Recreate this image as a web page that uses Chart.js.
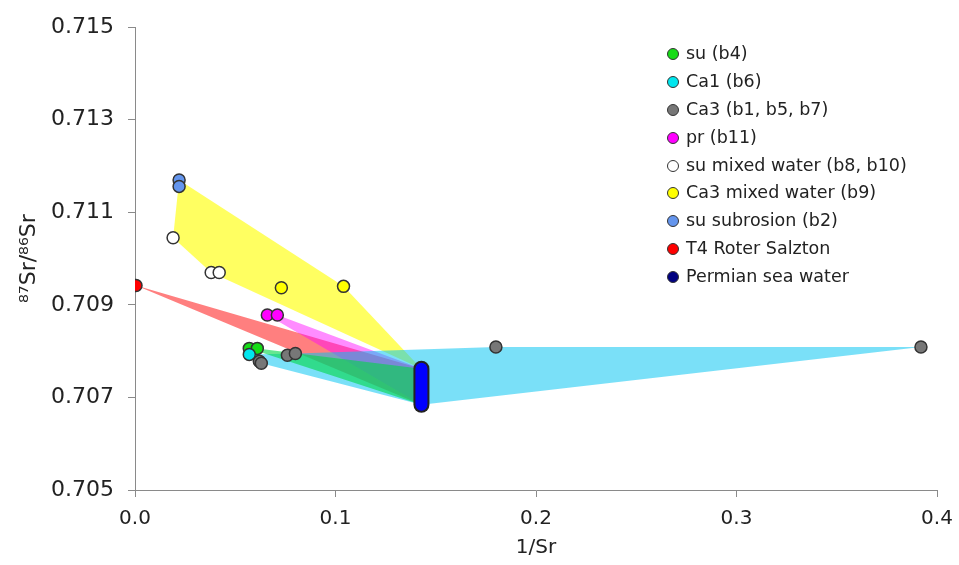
<!DOCTYPE html>
<html>
<head>
<meta charset="utf-8">
<script src="https://cdn.jsdelivr.net/npm/chart.js@4/dist/chart.umd.min.js"></script>
<style>
  body { margin: 0; background: #fff; overflow: hidden; }
  #wrap { position: relative; width: 959px; height: 565px; }
  #chart { position: absolute; left: 0; top: 0; }
  #legend { position: absolute; left: 667px; top: 40px; font-family: "DejaVu Sans", sans-serif; font-size: 17.5px; color: #222; }
  #legend div { height: 27.9px; line-height: 27.9px; white-space: nowrap; }
  #legend span.dot { display: inline-block; width: 10px; height: 10px; border-radius: 50%; border: 1.5px solid #333; margin-right: 7px; vertical-align: -1px; }
</style>
</head>
<body>
<div id="wrap">
  <canvas id="chart" width="959" height="565"></canvas>
  <div id="legend"></div>
</div>
<script>
// 1/Sr (x) and 87Sr/86Sr (y)
const suB4 = [{x: 0.057, y: 0.70806}, {x: 0.061, y: 0.70806}];
const ca1B6 = [{x: 0.057, y: 0.70793}];
const ca3B157 = [
  {x: 0.062, y: 0.70778}, {x: 0.063, y: 0.70774},
  {x: 0.076, y: 0.70791}, {x: 0.080, y: 0.70795},
  {x: 0.180, y: 0.70809}, {x: 0.392, y: 0.70809}
];
const prB11 = [{x: 0.066, y: 0.70878}, {x: 0.071, y: 0.70878}];
const suMixed = [{x: 0.019, y: 0.71045}, {x: 0.038, y: 0.70970}, {x: 0.042, y: 0.70970}];
const ca3Mixed = [{x: 0.073, y: 0.70937}, {x: 0.104, y: 0.70940}];
const suSubrosion = [{x: 0.022, y: 0.71170}, {x: 0.022, y: 0.71156}];
const t4Roter = [{x: 0.0005, y: 0.70942}];
const permianX = 1 / 7;
const permianSr = [0.70684, 0.70762];

const xTicks = [0, 0.1, 0.2, 0.3, 0.4];
const yTicks = [0.705, 0.707, 0.709, 0.711, 0.713, 0.715];

const permBottom = {x: permianX, y: permianSr[0]};
const permTop = {x: permianX, y: permianSr[1]};

// mixing fields (closed outlines)
const polyCyan = [ca1B6[0], ca3B157[3], ca3B157[4], ca3B157[5], permBottom, ca3B157[1], ca1B6[0]];
const polyGreen = [suB4[0], suB4[1], permTop, permBottom, suB4[0]];
const polyYellow = [suSubrosion[0], ca3Mixed[1], permTop, suMixed[1], suMixed[0], suSubrosion[0]];
const polyRed = [t4Roter[0], permTop, permBottom, t4Roter[0]];
const polyMagenta = [prB11[0], prB11[1], permTop, permBottom, prB11[0]];

const series = [
  {label: 'su (b4)', data: suB4, color: '#16dc16'},
  {label: 'Ca1 (b6)', data: ca1B6, color: '#00e6ee'},
  {label: 'Ca3 (b1, b5, b7)', data: ca3B157, color: '#777777'},
  {label: 'pr (b11)', data: prB11, color: '#ff00ff'},
  {label: 'su mixed water (b8, b10)', data: suMixed, color: '#ffffff'},
  {label: 'Ca3 mixed water (b9)', data: ca3Mixed, color: '#ffff00'},
  {label: 'su subrosion (b2)', data: suSubrosion, color: '#6495ed'},
  {label: 'T4 Roter Salzton', data: t4Roter, color: '#ff0000'}
];

function poly(data, color, order) {
  return {
    data: data, showLine: true, fill: 'shape', backgroundColor: color,
    borderWidth: 0, pointRadius: 0, order: order
  };
}

// higher order = drawn first (underneath)
const datasets = [
  poly(polyRed, 'rgba(255,0,0,0.5)', 20),
  poly(polyMagenta, 'rgba(255,0,255,0.45)', 19),
  poly(polyYellow, 'rgba(255,255,0,0.62)', 18),
  poly(polyCyan, 'rgba(0,196,242,0.52)', 17),
  poly(polyGreen, 'rgba(0,215,70,0.6)', 16),
  {data: [permBottom, permTop], showLine: true, borderColor: '#222', borderWidth: 16,
   borderCapStyle: 'round', pointRadius: 0, order: 10},
  {data: [permBottom, permTop], showLine: true, borderColor: '#0000ff', borderWidth: 12,
   borderCapStyle: 'round', pointRadius: 0, order: 9}
];
series.forEach((s, i) => {
  datasets.push({
    label: s.label, data: s.data, backgroundColor: s.color, borderColor: '#333',
    borderWidth: 1.5, pointRadius: 6, pointHoverRadius: 6, order: 8 - i
  });
});

const font = {family: '"DejaVu Sans", sans-serif', size: 20};
const yFont = {family: '"DejaVu Sans", sans-serif', size: 22};
const axisGrey = '#8a8a8a';

new Chart(document.getElementById('chart'), {
  type: 'scatter',
  data: {datasets: datasets},
  options: {
    responsive: false,
    animation: false,
    layout: {padding: {top: 22, right: 22, left: 0, bottom: 0}},
    plugins: {legend: {display: false}, tooltip: {enabled: false}},
    scales: {
      x: {
        type: 'linear', min: 0, max: 0.4,
        afterFit: s => { s.height = 75; s.paddingRight = 0; s.paddingLeft = 0; },
        afterBuildTicks: s => { s.ticks = xTicks.map(v => ({value: v})); },
        ticks: {color: '#222', font: font, padding: 10, callback: v => v.toFixed(1)},
        grid: {drawOnChartArea: false, tickLength: 7, color: axisGrey},
        border: {color: axisGrey},
        title: {display: true, text: '1/Sr', color: '#222', font: font, padding: {top: 0, bottom: 5}}
      },
      y: {
        type: 'linear', min: 0.705, max: 0.715,
        afterFit: s => { s.width = 135; },
        afterBuildTicks: s => { s.ticks = yTicks.map(v => ({value: v})); },
        ticks: {color: '#222', font: yFont, padding: 14, callback: v => v.toFixed(3)},
        grid: {drawOnChartArea: false, tickLength: 7, color: axisGrey},
        border: {color: axisGrey},
        title: {display: true, text: '⁸⁷Sr/⁸⁶Sr', color: '#222', font: yFont, padding: {top: 16}}
      }
    }
  }
});

// legend
const legendItems = series.map(s => [s.label, s.color]).concat([['Permian sea water', '#000080']]);
const legend = document.getElementById('legend');
legendItems.forEach(([label, color]) => {
  const row = document.createElement('div');
  const dot = document.createElement('span');
  dot.className = 'dot';
  dot.style.background = color;
  row.appendChild(dot);
  row.appendChild(document.createTextNode(label));
  legend.appendChild(row);
});
</script>
</body>
</html>
